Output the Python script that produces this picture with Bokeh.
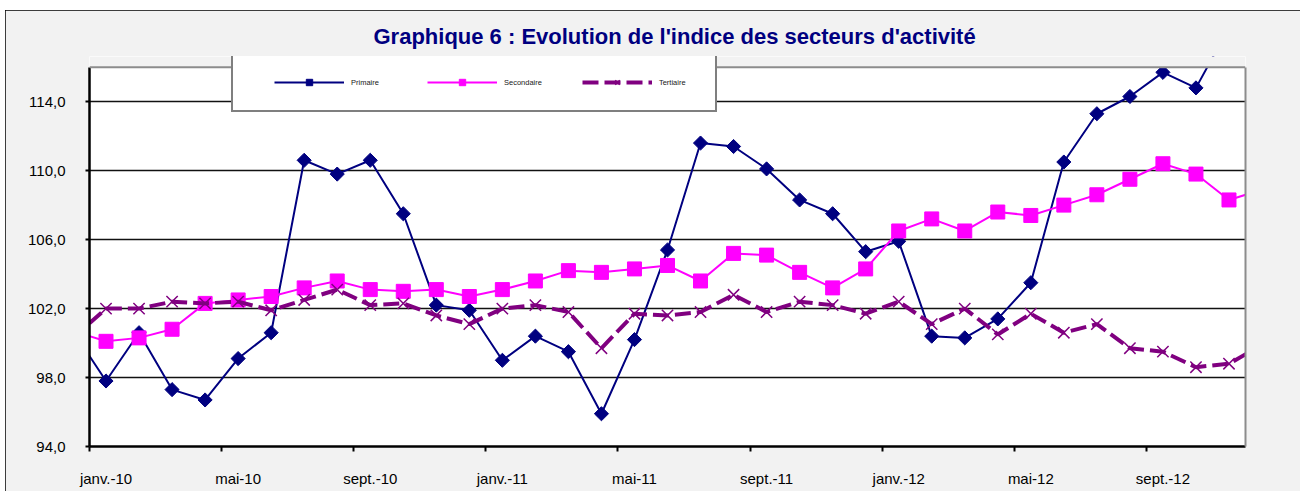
import numpy as np
from bokeh.plotting import figure
from bokeh.models import (FixedTicker, Legend, LegendItem, Range1d, ColumnDataSource,
                          BoxAnnotation, Span, LinearAxis)
from bokeh.embed import file_html
from bokeh.resources import INLINE

# ---- data ----
months = ["déc.-09",
          "janv.-10", "févr.-10", "mars-10", "avr.-10", "mai-10", "juin-10",
          "juil.-10", "août-10", "sept.-10", "oct.-10", "nov.-10", "déc.-10",
          "janv.-11", "févr.-11", "mars-11", "avr.-11", "mai-11", "juin-11",
          "juil.-11", "août-11", "sept.-11", "oct.-11", "nov.-11", "déc.-11",
          "janv.-12", "févr.-12", "mars-12", "avr.-12", "mai-12", "juin-12",
          "juil.-12", "août-12", "sept.-12", "oct.-12", "nov.-12", "déc.-12"]

primaire = [100.7,
            97.8, 100.6, 97.3, 96.7, 99.1, 100.6,
            110.6, 109.8, 110.6, 107.5, 102.2, 101.9,
            99.0, 100.4, 99.5, 95.9, 100.2, 105.4,
            111.6, 111.4, 110.1, 108.3, 107.5, 105.3,
            105.9, 100.4, 100.3, 101.4, 103.5, 110.5,
            113.3, 114.3, 115.7, 114.8, 118.3, float("nan")]

secondaire = [100.7,
              100.1, 100.3, 100.8, 102.3, 102.5, 102.7,
              103.2, 103.6, 103.1, 103.0, 103.1, 102.7,
              103.1, 103.6, 104.2, 104.1, 104.3, 104.5,
              103.6, 105.2, 105.1, 104.1, 103.2, 104.3,
              106.5, 107.2, 106.5, 107.6, 107.4, 108.0,
              108.6, 109.5, 110.4, 109.8, 108.3, 108.9]

tertiaire = [100.3,
             102.0, 102.0, 102.4, 102.3, 102.4, 101.9,
             102.5, 103.1, 102.2, 102.3, 101.6, 101.1,
             102.0, 102.2, 101.8, 99.7, 101.7, 101.6,
             101.8, 102.8, 101.8, 102.4, 102.2, 101.7,
             102.4, 101.1, 102.0, 100.5, 101.7, 100.6,
             101.1, 99.7, 99.5, 98.6, 98.8, 99.9]

x_tick_labels = ["janv.-10", "mai-10", "sept.-10", "janv.-11", "mai-11",
                 "sept.-11", "janv.-12", "mai-12", "sept.-12"]
y_ticks = [94, 98, 102, 106, 110, 114]
y_tick_labels = ["94,0", "98,0", "102,0", "106,0", "110,0", "114,0"]
y_min, y_max = 94, 116

# month position: janv.-10 = 0 (category centres)
x = list(np.arange(len(months)) - 1)
src = ColumnDataSource(dict(x=x, month=months, p=primaire, s=secondaire, t=tertiaire))

FONT = "Liberation Sans"
BG = "#f2f2f2"

p = figure(width=1295, height=481, output_backend="svg", toolbar_location=None,
           x_range=Range1d(-0.5, 34.5), y_range=Range1d(y_min, y_max + 0.62),
           min_border_left=84, min_border_right=55, min_border_top=46,
           min_border_bottom=45)
p.styles = {"margin-left": "5px", "margin-top": "10px",
            "outline": "2px solid #000000", "outline-offset": "-2px"}

p.background_fill_color = "white"
p.border_fill_color = BG
p.outline_line_color = None

# title
p.title.text = "Graphique 6 : Evolution de l'indice des secteurs d'activité"
p.title.align = "left"
p.title.offset = 284
p.title.standoff = 16
p.title.text_font = FONT
p.title.text_font_size = "22px"
p.title.text_font_style = "bold"
p.title.text_color = "#000080"

# axes
xt = [i * 4 for i in range(len(x_tick_labels))]
p.xaxis.ticker = FixedTicker(ticks=xt, minor_ticks=[v - 0.5 for v in xt])
p.xaxis.major_label_overrides = {v: lab for v, lab in zip(xt, x_tick_labels)}
p.xaxis.major_tick_line_color = None
p.xaxis.major_tick_out = 0
p.xaxis.major_tick_in = 0
p.xaxis.minor_tick_line_color = "black"
p.xaxis.minor_tick_line_width = 2
p.xaxis.minor_tick_out = 5
p.xaxis.minor_tick_in = 0
p.xaxis.major_label_standoff = 18
p.xaxis.axis_line_color = "black"
p.xaxis.axis_line_width = 2.5

p.yaxis.ticker = FixedTicker(ticks=y_ticks)
p.yaxis.bounds = (y_min, y_max)
p.yaxis.major_label_overrides = {v: lab for v, lab in zip(y_ticks, y_tick_labels)}
p.yaxis.minor_tick_line_color = None
p.yaxis.major_tick_out = 4
p.yaxis.major_tick_in = 0
p.yaxis.major_tick_line_width = 2
p.yaxis.major_tick_line_color = "black"
p.yaxis.major_label_standoff = 20
p.yaxis.axis_line_color = "black"
p.yaxis.axis_line_width = 2.5

for ax in (p.xaxis, p.yaxis):
    ax.major_label_text_font = FONT
    ax.major_label_text_font_size = "15px"
    ax.major_label_text_color = "black"

# right edge of the plot area (grey border)
right_edge = LinearAxis(ticker=FixedTicker(ticks=[]), bounds=(y_min, y_max),
                        axis_line_color="#8c8c8c", axis_line_width=2,
                        major_tick_line_color=None, minor_tick_line_color=None)
p.add_layout(right_edge, "right")

p.xgrid.visible = False
p.ygrid.ticker = FixedTicker(ticks=y_ticks)
p.ygrid.grid_line_color = "#111111"
p.ygrid.grid_line_width = 1.6

# series
l1 = p.line("x", "p", source=src, line_color="#000080", line_width=2)
m1 = p.scatter("x", "p", source=src, marker="square", angle=np.pi / 4, size=10,
               fill_color="#000080", line_color="#000080")
l2 = p.line("x", "s", source=src, line_color="#ff00ff", line_width=2)
m2 = p.scatter("x", "s", source=src, marker="square", size=14,
               fill_color="#ff00ff", line_color="#ff00ff")
l3 = p.line("x", "t", source=src, line_color="#800080", line_width=4, line_dash="16 6")
m3 = p.scatter("x", "t", source=src, marker="x", size=16,
               line_color="#800080", line_width=1.5)

# area above the plot box (the legend box overlaps it)
p.add_layout(BoxAnnotation(bottom=y_max, fill_color=BG, fill_alpha=1.0, line_color=None))
p.add_layout(Span(location=y_max, dimension="width", line_color="#8c8c8c", line_width=2))

legend = Legend(
    items=[LegendItem(label="Primaire", renderers=[l1, m1]),
           LegendItem(label="Secondaire", renderers=[l2, m2]),
           LegendItem(label="Tertiaire", renderers=[l3, m3])],
    orientation="horizontal", location=(142, 334),
    padding=20, spacing=40, glyph_width=70, glyph_height=16,
    label_height=16, label_width=36, label_standoff=7,
    label_text_font=FONT, label_text_font_size="7.5px", label_text_color="#202020",
    border_line_color="black", border_line_width=2,
    background_fill_color="white", background_fill_alpha=1.0,
    title="\u00a0", title_location="left", title_standoff=20,
    title_text_font_size="1px",
)
p.add_layout(legend)

open("out.html", "w").write(file_html(p, INLINE))
